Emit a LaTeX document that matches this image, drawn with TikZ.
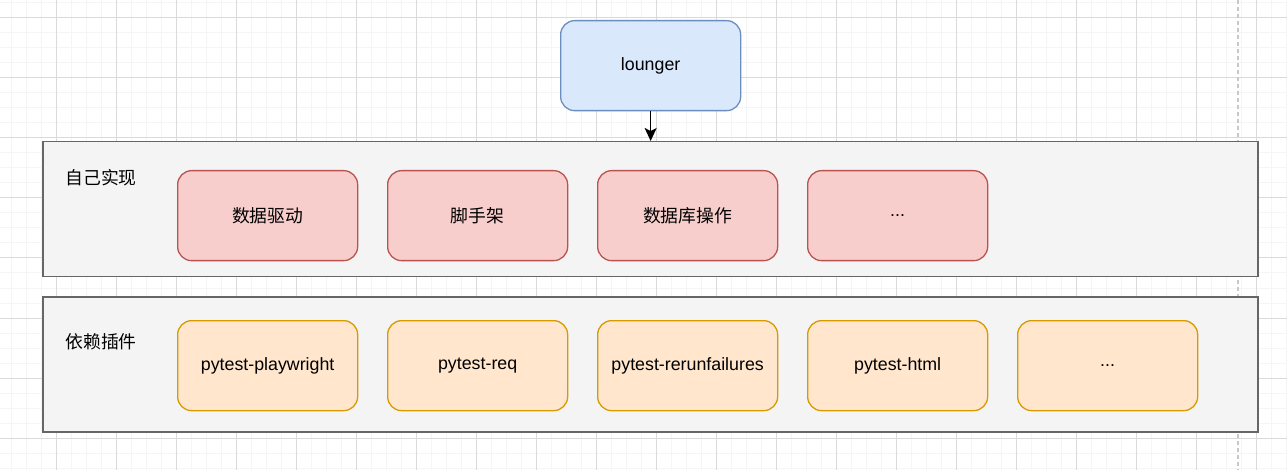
\documentclass[tikz,border=0pt]{standalone}
\usepackage{fontspec}
\setmainfont{Liberation Sans}
\newfontfamily\cjk{Noto Sans CJK SC}
\usetikzlibrary{arrows.meta}
\definecolor{bluefill}{HTML}{DAE8FC}
\definecolor{bluedraw}{HTML}{6C8EBF}
\definecolor{redfill}{HTML}{F8CECC}
\definecolor{reddraw}{HTML}{B85450}
\definecolor{orgfill}{HTML}{FFE6CC}
\definecolor{orgdraw}{HTML}{D79B00}
\definecolor{layerfill}{HTML}{F4F4F4}
\definecolor{layerdraw}{HTML}{666666}
\definecolor{gridminor}{HTML}{F5F5F5}
\definecolor{gridmajor}{HTML}{DADADA}
\begin{document}
\begin{tikzpicture}[x=1pt,y=-1pt,
  every node/.style={font=\fontsize{17.8}{21}\selectfont, text=black},
  card/.style={draw, rounded corners=14pt, line width=1.3pt, minimum width=180pt, minimum height=90pt, inner sep=0pt, anchor=north west},
  bluecard/.style={card, fill=bluefill, draw=bluedraw},
  redcard/.style={card, fill=redfill, draw=reddraw},
  orgcard/.style={card, fill=orgfill, draw=orgdraw},
  layer/.style={draw=layerdraw, fill=layerfill, line width=1.5pt, minimum width=1215pt, minimum height=135pt, inner sep=0pt, anchor=north west},
  layerlabel/.style={inner sep=0pt},
  arrowline/.style={line width=1.5pt, -{Stealth[length=13pt,width=12pt,inset=3pt]}}
]
\useasboundingbox (0,0) rectangle (1287,470);
\fill[white] (0,0) rectangle (1287,470);
% grid
\foreach \x in {11.7,26.7,...,1287} {\draw[gridminor, line width=1pt] (\x,0) -- (\x,470);}
\foreach \y in {3,18,...,470} {\draw[gridminor, line width=1pt] (0,\y) -- (1287,\y);}
\foreach \x in {56.7,116.7,...,1287} {\draw[gridmajor, line width=1pt] (\x,0) -- (\x,470);}
\foreach \y in {18,78,...,470} {\draw[gridmajor, line width=1pt] (0,\y) -- (1287,\y);}
\draw[gridmajor!80!gray, line width=1.2pt, dash pattern=on 4pt off 3pt] (1238,0) -- (1238,470);

\node[bluecard] (lounger) at (560,20) {lounger};

\node[layer] (layer1) at (42,141) {};
\node[layerlabel] (l1label) at (101,178) {\cjk 自己实现};
\node[redcard] (r1) at (177,170) {\cjk 数据驱动};
\node[redcard] (r2) at (387,170) {\cjk 脚手架};
\node[redcard] (r3) at (597,170) {\cjk 数据库操作};
\node[redcard] (r4) at (807,170) {...};

\node[layer] (layer2) at (42,296) {};
\node[layerlabel] (l2label) at (101,342) {\cjk 依赖插件};
\node[orgcard] (o1) at (177,320) {pytest-playwright};
\node[orgcard] (o2) at (387,320) {pytest-req};
\node[orgcard] (o3) at (597,320) {pytest-rerunfailures};
\node[orgcard] (o4) at (807,320) {pytest-html};
\node[orgcard] (o5) at (1017,320) {...};

\draw[arrowline] (lounger.south) -- (lounger.south |- layer1.north);
\end{tikzpicture}
\end{document}
